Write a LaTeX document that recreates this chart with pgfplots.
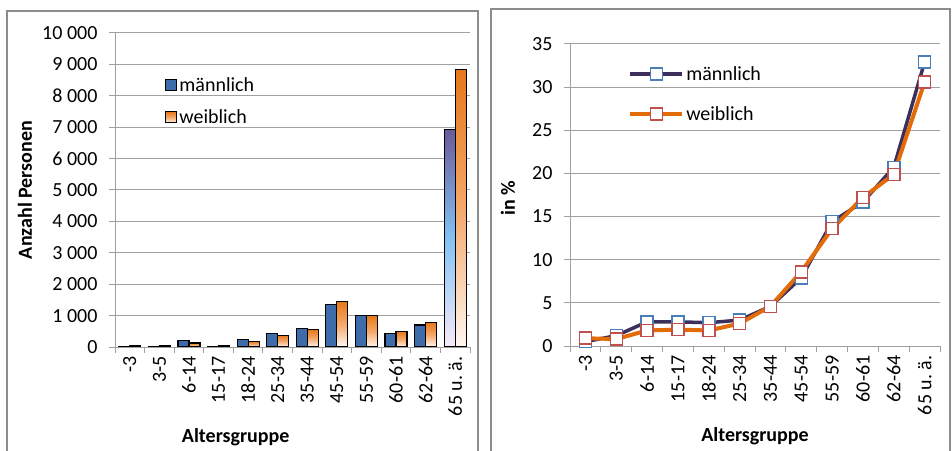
\documentclass[border=0pt]{standalone}
\usepackage{fontspec}
\setmainfont{Carlito}
\usepackage{pgfplots}
\pgfplotsset{compat=1.18}
\definecolor{mblue}{HTML}{3E6BAA}
\definecolor{mpurple}{HTML}{6B5A99}
\definecolor{mlight}{HTML}{82C2F5}
\definecolor{mpale}{HTML}{F8EAF8}
\definecolor{worange}{HTML}{E6781A}
\definecolor{wmid}{HTML}{F4A86A}
\definecolor{wpale}{HTML}{FFF7F0}
\definecolor{gridgray}{HTML}{A0A0A0}
\definecolor{framegray}{HTML}{8C8C8C}
\definecolor{mline}{HTML}{3D2F5B}
\definecolor{mmark}{HTML}{4A7EBB}
\definecolor{wline}{HTML}{E36C09}
\definecolor{wmark}{HTML}{C0504D}
\newcommand{\fz}{\fontsize{20bp}{24bp}\selectfont}
\pgfplotsset{
  excelaxis/.style={
    scale only axis,
    xmin=-0.5, xmax=11.5,
    xtick={-0.5,0.5,...,11.5},
    x tick label as interval,
    xticklabels={-3,3-5,6-14,15-17,18-24,25-34,35-44,45-54,55-59,60-61,62-64,65 u.~ä.},
    xticklabel style={rotate=90, anchor=east, font=\fz},
    yticklabel style={font=\fz, xshift=-8bp},
    scaled y ticks=false,
    axis x line*=bottom, axis y line*=left,
    axis line style={draw=gridgray, line width=1bp, -},
    tick align=outside, major tick length=6bp,
    tick style={draw=gridgray, line width=1bp},
    ymajorgrids, grid style={draw=gridgray, line width=1bp},
    label style={font=\bfseries\fz},
    /pgf/number format/assume math mode=true,
    /pgf/number format/1000 sep={\hspace{0.23em}},
    legend style={draw=none, fill=none, font=\fz, inner sep=0pt},
    legend cell align=left,
  },
  wbar/.style={ybar, bar width=11bp, bar shift=5.5bp, draw=black, line width=1.2bp, top color=worange, bottom color=wpale, middle color=wmid},
}
\begin{document}
\begin{tikzpicture}
\useasboundingbox (0,0) rectangle (952bp,451bp);
\draw[framegray, line width=1.5bp] (7bp,-5bp) -- (7bp,440bp) -- (478bp,440bp) -- (478bp,-5bp);
\draw[framegray, line width=1.5bp] (491bp,-5bp) -- (491bp,442bp) -- (950bp,442bp) -- (950bp,-5bp);

\begin{axis}[excelaxis,
  at={(115bp,104bp)}, anchor=south west, width=355bp, height=314bp,
  ymin=0, ymax=10000, ytick={0,1000,...,10000},
  xlabel={Altersgruppe}, ylabel={Anzahl Personen},
  xlabel style={at={(axis description cs:0.34,-0.287)}, anchor=center},
  ylabel style={at={(axis description cs:-0.254,0.5)}, anchor=center, rotate=0},
  legend style={at={(axis description cs:0.141,0.866)}, anchor=north west, row sep=13bp},
  legend image code/.code={\draw[#1, line width=1.2bp] (0bp,-5.5bp) rectangle (11bp,5.5bp);},
]
\addplot[ybar, bar width=11bp, bar shift=-5.5bp, draw=black, line width=1.2bp, fill=mblue]
  coordinates {(0,15) (1,15) (2,210) (3,10) (4,240) (5,440) (6,580) (7,1350) (8,1000) (9,420) (10,700)};
\addlegendentry{männlich}
\addplot[ybar, bar width=11bp, bar shift=-5.5bp, draw=black, line width=1.2bp, top color=mpurple, bottom color=mpale, middle color=mlight, forget plot]
  coordinates {(11,6920)};
\addplot[wbar] coordinates {(11,8850)};
\addlegendentry{weiblich}
\addplot[wbar, forget plot] coordinates {(0,40)};
\addplot[wbar, forget plot] coordinates {(1,40)};
\addplot[wbar, forget plot] coordinates {(2,130)};
\addplot[wbar, forget plot] coordinates {(3,40)};
\addplot[wbar, forget plot] coordinates {(4,180)};
\addplot[wbar, forget plot] coordinates {(5,370)};
\addplot[wbar, forget plot] coordinates {(6,550)};
\addplot[wbar, forget plot] coordinates {(7,1460)};
\addplot[wbar, forget plot] coordinates {(8,1000)};
\addplot[wbar, forget plot] coordinates {(9,490)};
\addplot[wbar, forget plot] coordinates {(10,780)};
\end{axis}

\begin{axis}[excelaxis,
  at={(570bp,105bp)}, anchor=south west, width=370bp, height=302bp,
  ymin=0, ymax=35, ytick={0,5,...,35},
  xlabel={Altersgruppe}, ylabel={in \%},
  xlabel style={at={(axis description cs:0.5,-0.30)}, anchor=center},
  ylabel style={at={(axis description cs:-0.168,0.49)}, anchor=center},
  legend style={at={(axis description cs:0.157,0.934)}, anchor=north west, row sep=21bp},
  legend image code/.code={\draw[#1, mark repeat=2, mark phase=2] plot coordinates {(0bp,0bp) (26bp,0bp) (52bp,0bp)};},
]
\addplot[mline, line width=3.5bp, mark=square*, mark size=6bp, mark options={fill=white, draw=mmark, line width=1.5bp}]
  coordinates {(0,0.5) (1,1.2) (2,2.8) (3,2.8) (4,2.7) (5,3.0) (6,4.6) (7,7.9) (8,14.4) (9,16.7) (10,20.7) (11,32.9)};
\addlegendentry{männlich}
\addplot[wline, line width=4bp, mark=square*, mark size=6bp, mark options={fill=white, draw=wmark, line width=1.5bp}]
  coordinates {(0,0.9) (1,0.8) (2,1.8) (3,1.9) (4,1.8) (5,2.6) (6,4.6) (7,8.6) (8,13.6) (9,17.2) (10,19.9) (11,30.6)};
\addlegendentry{weiblich}
\end{axis}
\end{tikzpicture}
\end{document}
